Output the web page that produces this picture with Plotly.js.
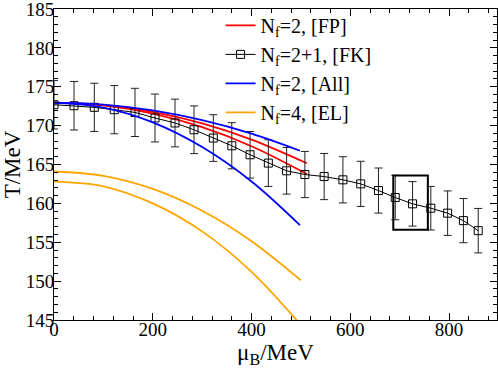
<!DOCTYPE html>
<html>
<head>
<meta charset="utf-8">
<script src="https://cdn.plot.ly/plotly-3.0.1.min.js"></script>
<style>
  html, body { margin: 0; padding: 0; background: #fff; }
  #chart { width: 498px; height: 369px; }
</style>
</head>
<body>
<div id="chart"></div>
<script>
// curves (mu_B in MeV, T in MeV)
var muCurve = [0, 100, 200, 300, 400, 512];
var fpUpper = [172.95, 172.65, 171.76, 170.28, 168.2, 165.16];
var fpLower = [172.95, 172.6, 171.55, 169.8, 167.35, 163.78];

var muAll = [0, 100, 200, 300, 400, 498];
var allUpper = [172.95, 172.7, 171.95, 170.7, 168.97, 166.77];
var allLower = [172.95, 172.32, 170.42, 167.25, 162.82, 157.2];

var muEL = [0, 100, 200, 300, 400, 500];
var elUpper = [164.1, 163.54, 161.86, 159.06, 155.14, 150.1];
var elLower = [162.8, 162.2, 160.0, 156.4, 151.2, 144.35];

// lattice points [FK]
var fkMu = [0, 40.5, 81.6, 122, 164, 204.5, 245, 283.5, 322.6, 360, 397, 434,
            471, 508, 547, 585, 621, 657, 691, 726, 763, 797, 829, 859];
var fkT = [172.69, 172.56, 172.35, 172.05, 171.7, 170.98, 170.34, 169.47, 168.4, 167.41, 166.25, 165.18,
           164.19, 163.71, 163.45, 163.03, 162.51, 161.65, 160.75, 159.94, 159.38, 158.74, 157.78, 156.49];
var fkErr = [3.12, 3.12, 3.1, 3.1, 3.1, 3.08, 3.07, 3.07, 3.0, 2.97, 3.0, 3.0,
             3.0, 2.97, 2.97, 2.97, 2.9, 2.9, 2.86, 2.86, 2.8, 2.86, 2.84, 2.86];

// highlighted box
var boxX = [687, 757];
var boxY = [156.6, 163.6];

var serif = "Times, serif";

function curve(x, y, color, group, name, show) {
  return {
    x: x, y: y, type: "scatter", mode: "lines",
    line: { color: color, width: 1.8, shape: "spline" },
    name: name, legendgroup: group, showlegend: show
  };
}

var data = [
  curve(muCurve, fpUpper, "#ff0000", "FP", "N<sub>f</sub>=2, [FP]", true),
  curve(muCurve, fpLower, "#ff0000", "FP", "", false),
  {
    x: fkMu, y: fkT, type: "scatter", mode: "lines+markers",
    name: "N<sub>f</sub>=2+1, [FK]", legendgroup: "FK",
    line: { color: "#000", width: 1 },
    marker: { symbol: "square-open", size: 8, color: "#000", line: { width: 1 } },
    error_y: { type: "data", array: fkErr, visible: true, color: "#222", thickness: 1, width: 4 }
  },
  curve(muAll, allUpper, "#0000ff", "All", "N<sub>f</sub>=2, [All]", true),
  curve(muAll, allLower, "#0000ff", "All", "", false),
  curve(muEL, elUpper, "#ffa500", "EL", "N<sub>f</sub>=4, [EL]", true),
  curve(muEL, elLower, "#ffa500", "EL", "", false)
];

var axisCommon = {
  showline: true, linecolor: "#000", linewidth: 1, mirror: "allticks",
  ticks: "inside", ticklen: 7, tickcolor: "#000", tickwidth: 1,
  showgrid: false, zeroline: false, ticklabeloverflow: "allow",
  tickfont: { family: serif, size: 19, color: "#000" }
};

var layout = {
  width: 498, height: 369,
  margin: { l: 54, r: 1, t: 9, b: 49 },
  paper_bgcolor: "#fff", plot_bgcolor: "#fff",
  font: { family: serif, color: "#000" },
  xaxis: Object.assign({}, axisCommon, {
    range: [0, 897], dtick: 200, tick0: 0, ticklabelstandoff: -8,
    minor: { dtick: 40, ticks: "inside", ticklen: 4, tickcolor: "#000" },
    title: { text: "μ<sub>B</sub>/MeV", font: { family: serif, size: 23 }, standoff: 4 }
  }),
  yaxis: Object.assign({}, axisCommon, {
    range: [145, 185], dtick: 5, tick0: 145, ticklabelstandoff: -5,
    minor: { dtick: 1, ticks: "inside", ticklen: 4, tickcolor: "#000" },
    title: { text: "T/MeV", font: { family: serif, size: 23 }, standoff: 0 }
  }),
  legend: {
    x: 0.376, y: 1.01, xanchor: "left", yanchor: "top",
    font: { family: serif, size: 20, color: "#000" },
    bgcolor: "rgba(0,0,0,0)", tracegroupgap: 0, itemwidth: 30,
    traceorder: "normal"
  },
  shapes: [{
    type: "rect", xref: "x", yref: "y",
    x0: boxX[0], x1: boxX[1], y0: boxY[0], y1: boxY[1],
    line: { color: "#000", width: 2 }
  }],
  showlegend: true
};

Plotly.newPlot("chart", data, layout, { displayModeBar: false, staticPlot: true });
</script>
</body>
</html>
